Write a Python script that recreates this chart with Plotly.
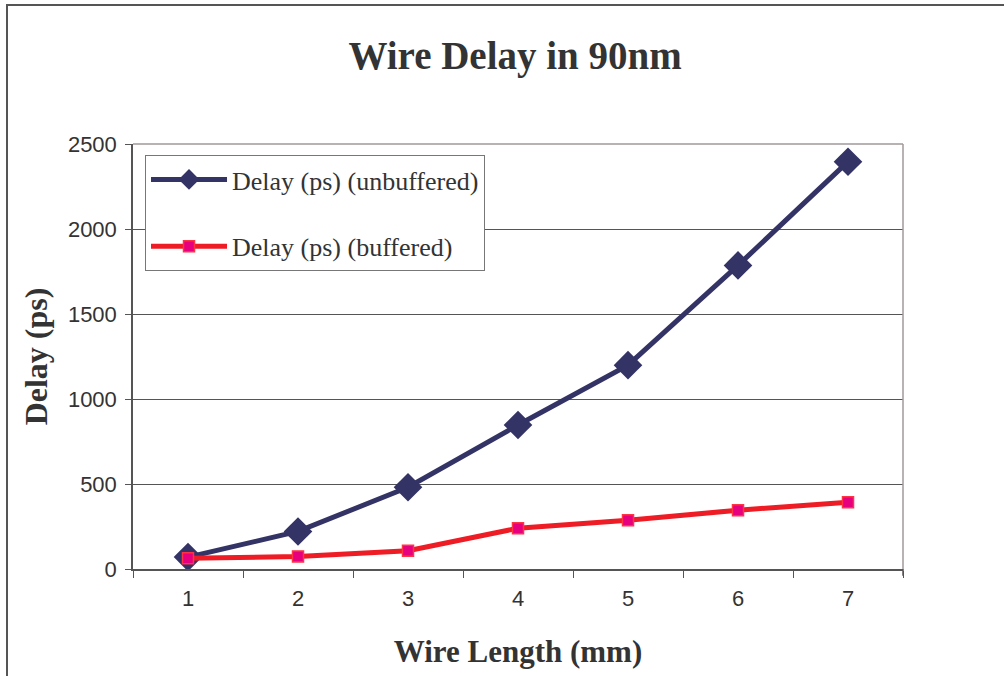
import plotly.graph_objects as go

wire_length = ["1", "2", "3", "4", "5", "6", "7"]
delay_unbuffered = [70, 221, 481, 847, 1199, 1786, 2396]
delay_buffered = [63, 74, 108, 240, 287, 346, 392]
y_ticks = [0, 500, 1000, 1500, 2000, 2500]

fig = go.Figure()
fig.add_trace(go.Scatter(
    x=wire_length, y=delay_unbuffered, mode="lines+markers",
    name="Delay (ps) (unbuffered)", legendgroup="a",
    line=dict(color="#333366", width=5),
    marker=dict(symbol="diamond", size=22, color="#333366", line=dict(width=0)),
))
fig.add_trace(go.Scatter(
    x=wire_length, y=delay_buffered, mode="lines+markers",
    name="Delay (ps) (buffered)", legendgroup="b",
    line=dict(color="#ee1c25", width=5),
    marker=dict(symbol="square", size=11, color="#e6007e", line=dict(color="#ff3344", width=1.5)),
))

fig.update_layout(
    width=1004, height=676,
    margin=dict(l=133, r=101, t=144, b=107),
    paper_bgcolor="white", plot_bgcolor="white",
    showlegend=True,
    title=dict(text="<b>Wire Delay in 90nm</b>", x=0.513, xanchor="center",
               y=1 - 55 / 676, yanchor="middle",
               font=dict(family="Liberation Serif", size=39, color="#333333")),
    legend=dict(x=0.0156, y=0.974, xanchor="left", yanchor="top",
                bordercolor="#777777", borderwidth=1, bgcolor="white",
                font=dict(family="Liberation Serif", size=26, color="#333333"),
                tracegroupgap=30, traceorder="grouped",
                itemwidth=76),
    font=dict(family="Liberation Sans", color="#333333"),
)

fig.update_xaxes(
    type="category", range=[-0.5, 6.5], tickson="boundaries",
    ticks="outside", ticklen=7, tickcolor="#555555",
    showline=True, linecolor="#555555", linewidth=1.5,
    showgrid=False, mirror=False,
    ticklabelstandoff=9,
    tickfont=dict(family="Liberation Sans", size=22, color="#333333"),
    title=dict(text="<b>Wire Length (mm)</b>", standoff=30,
               font=dict(family="Liberation Serif", size=31, color="#333333")),
)
fig.update_yaxes(
    range=[0, 2500], tickvals=y_ticks,
    ticks="outside", ticklen=6, tickcolor="#555555",
    showline=True, linecolor="#555555", linewidth=1.5,
    showgrid=True, gridcolor="#555555", gridwidth=1,
    zeroline=False,
    ticklabelstandoff=4,
    tickfont=dict(family="Liberation Sans", size=22, color="#333333"),
    title=dict(text="<b>Delay (ps)</b>", standoff=11,
               font=dict(family="Liberation Serif", size=32, color="#333333")),
)

# top and right plot frame (lighter)
fig.add_shape(type="line", xref="paper", yref="paper", x0=0, x1=1, y0=1, y1=1,
              line=dict(color="#a09898", width=1.5))
fig.add_shape(type="line", xref="paper", yref="paper", x0=1, x1=1, y0=0, y1=1,
              line=dict(color="#a09898", width=1.5))
fig.add_shape(type="line", xref="paper", yref="paper", x0=1, x1=1, y0=0, y1=-0.016,
              line=dict(color="#555555", width=1.5))
# outer page frame
fig.add_shape(type="rect", xref="paper", yref="paper",
              x0=(7 - 133) / 770, x1=1.5, y0=-0.6, y1=(569 - 5) / 425,
              line=dict(color="#555555", width=2), layer="below")

fig.write_html("out.html")
